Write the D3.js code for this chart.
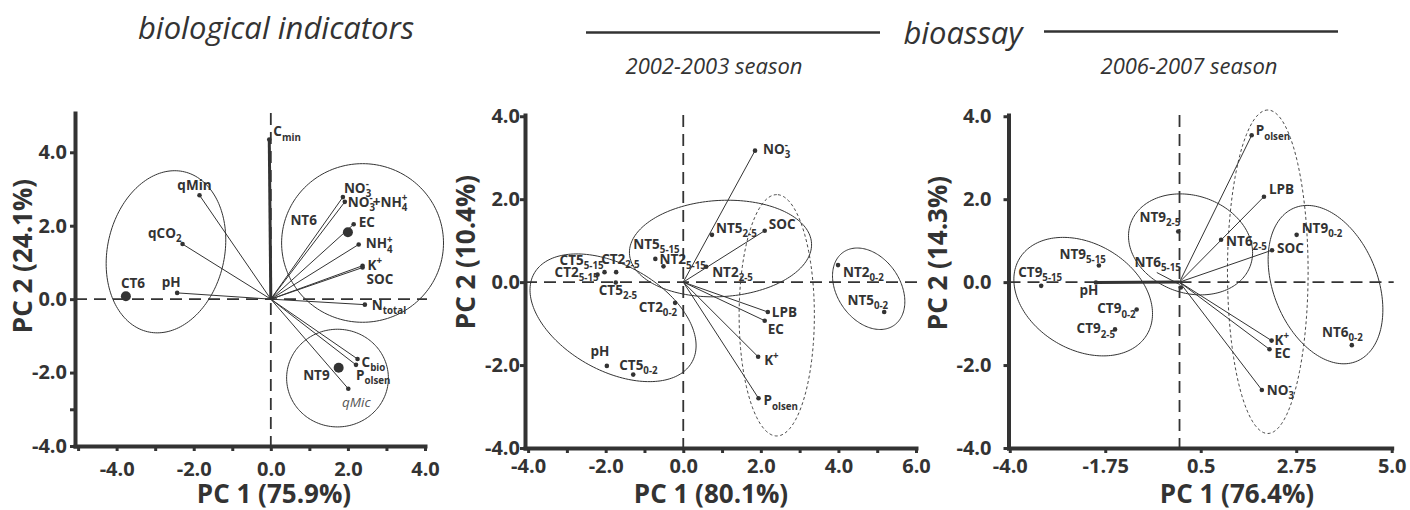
<!DOCTYPE html>
<html><head><meta charset="utf-8">
<script src="https://cdn.jsdelivr.net/npm/d3@7"></script>
<style>
body{margin:0;background:#fff}
svg{display:block}
text{font-family:'Open Sans','Noto Sans',sans-serif;fill:#333}
</style>
</head><body>
<svg id="chart" width="1410" height="510"></svg>
<script>
// ---------------- DATA ----------------
// Panel 1: biological indicators
const bioVarLabels = ["C_{min}","qMin","qCO_{2}","pH","NO_{3}^{-}","NO_{3}^{-}+NH_{4}^{+}","EC","NH_{4}^{+}","K^{+}","SOC","N_{total}","C_{bio}","P_{olsen}","qMic"];
const bioVarPC1 = [-0.04,-1.85,-2.29,-2.43,1.87,1.92,2.15,2.28,2.38,2.38,2.44,2.25,2.21,2.01];
const bioVarPC2 = [4.35,2.83,1.50,0.17,2.78,2.65,2.04,1.49,0.91,0.86,-0.15,-1.63,-1.79,-2.44];
const bioObsLabels = ["CT6","NT6","NT9"];
const bioObsPC1 = [-3.76,2.00,1.76];
const bioObsPC2 = [0.08,1.82,-1.87];
// group ellipses: [centre PC1, centre PC2, semi-axis a, semi-axis b, angle deg]
const bioEllipses = [[-2.72,1.29,2.23,1.52,79],[2.38,1.53,2.10,2.16,0],[1.73,-2.15,1.32,1.33,0]];
const bioXTicks = [-4,-2,0,2,4];
const bioXMinor = [-5,-3,-1,1,3];
const bioYTicks = [-4,-2,0,2,4];
const bioYMinor = [-3];

// Panel 2: bioassay 2002-2003
const s02VarLabels = ["NO_{3}^{-}","SOC","LPB","EC","K^{+}","P_{olsen}"];
const s02VarPC1 = [1.85,2.10,2.18,2.10,1.93,1.94];
const s02VarPC2 = [3.17,1.24,-0.72,-0.93,-1.80,-2.80];
const s02ObsLabels = ["NT5_{2-5}","NT5_{5-15}","NT2_{5-15}","NT2_{2-5}","CT5_{5-15}","CT2_{2-5}","CT2_{5-15}","CT5_{2-5}","CT2_{0-2}","pH","CT5_{0-2}","NT2_{0-2}","NT5_{0-2}"];
const s02ObsPC1 = [0.74,-0.72,-0.51,0.59,-2.03,-1.73,-2.21,-1.74,-0.21,-1.97,-1.29,3.99,5.18];
const s02ObsPC2 = [1.14,0.56,0.38,0.37,0.24,0.24,0.18,-0.01,-0.50,-2.02,-2.23,0.41,-0.72];
const s02Ellipses = [[-1.81,-0.86,2.30,1.29,-26.2],[0.96,0.81,2.35,1.16,3],[4.78,-0.16,1.10,0.79,-49.7],[2.41,-0.80,2.91,0.97,90]];
const s02XTicks = [-4,-2,0,2,4,6];
const s02XMinor = [-3,-1,1,3,5];
const s02YTicks = [-4,-2,0,2,4];
const s02YMinor = [];

// Panel 3: bioassay 2006-2007
const s06VarLabels = ["P_{olsen}","LPB","SOC","K^{+}","EC","NO_{3}^{-}","pH"];
const s06VarPC1 = [1.70,1.99,2.18,2.17,2.12,1.94,-1.97];
const s06VarPC2 = [3.54,2.06,0.77,-1.41,-1.62,-2.60,-0.01];
const s06ObsLabels = ["NT9_{2-5}","NT6_{2-5}","NT9_{0-2}","NT6_{0-2}","NT6_{5-15}","NT9_{5-15}","CT9_{5-15}","CT9_{0-2}","CT9_{2-5}"];
const s06ObsPC1 = [-0.03,0.98,2.76,4.06,0.03,-1.90,-3.26,-1.01,-1.52];
const s06ObsPC2 = [1.22,1.02,1.14,-1.52,-0.13,0.40,-0.09,-0.66,-1.14];
const s06Ellipses = [[-2.27,-0.35,1.76,1.27,-32.5],[0.26,0.91,1.50,1.17,-21],[3.44,-0.06,1.99,1.23,-69],[2.08,0.25,3.90,0.95,90]];
const s06XTicks = [-4,-1.75,0.5,2.75,5];
const s06XMinor = [];
const s06YTicks = [-4,-2,0,2,4];
const s06YMinor = [];

const axisTitlesX = ["PC 1 (75.9%)","PC 1 (80.1%)","PC 1 (76.4%)"];
const axisTitlesY = ["PC 2 (24.1%)","PC 2 (10.4%)","PC 2 (14.3%)"];
const mainTitles = ["biological indicators","bioassay"];
const seasonTitles = ["2002-2003 season","2006-2007 season"];

// ---------------- LAYOUT / STYLE ----------------
const INK = "#333";
const LABEL_FS = 13.5;
const layout = [
  { xDom:[-5.08,4.0], xRange:[75,425], yDom:[-4,5.07], yRange:[446,113],
    xPad:11, yPad:3, xTitleX:274, yTitleX:31.5, yTitleY:256,
    bigObs:true, thickVars:["C_{min}"], dashedEll:[false,false,false], vecObs:[],
    labels:{
      "C_{min}":[4,-3,"start"], "qMin":[-5,-5,"middle"], "qCO_{2}":[-1,-6,"end"], "pH":[-6,-6,"middle"],
      "CT6":[-5,-8,"start"], "NO_{3}^{-}":[1,-4,"start"], "NO_{3}^{-}+NH_{4}^{+}":[3,5,"start"],
      "EC":[5,3,"start"], "NT6":[-31,-7,"end"], "NH_{4}^{+}":[7,4,"start"], "K^{+}":[5,4,"start"],
      "SOC":[4,16,"start"], "N_{total}":[7,5,"start"], "C_{bio}":[4,8,"start"], "P_{olsen}":[0,15,"start"],
      "NT9":[-9,12,"end"], "qMic":[8,18,"middle"] },
    italic:["qMic"], leaders:{} },
  { xDom:[-4.08,6.0], xRange:[525,916], yDom:[-4,4.03], yRange:[448,115],
    xPad:6, yPad:0, xTitleX:711, yTitleX:475, yTitleY:252,
    bigObs:false, thickVars:[], dashedEll:[false,false,false,true],
    labels:{
      "NO_{3}^{-}":[8,3,"start"], "NT5_{2-5}":[4,-2,"start"], "SOC":[4,-2,"start"], "NT5_{5-15}":[-22,-10,"start"],
      "NT2_{5-15}":[-4,-2,"start"], "NT2_{2-5}":[6,10,"start"], "CT5_{5-15}":[-1,-7,"end"], "CT2_{2-5}":[-15,-8,"start"],
      "CT2_{5-15}":[1,2,"end"], "CT5_{2-5}":[-17,12,"start"], "CT2_{0-2}":[2,9,"end"], "pH":[-7,-10,"middle"],
      "CT5_{0-2}":[-14,-5,"start"], "LPB":[4,5,"start"], "EC":[3,13,"start"], "K^{+}":[6,8,"start"],
      "P_{olsen}":[5,7,"start"], "NT2_{0-2}":[5,12,"start"], "NT5_{0-2}":[4,-7,"end"] },
    italic:[], leaders:{} },
  { xDom:[-4.03,5.0], xRange:[1008.5,1391.7], yDom:[-4,4.03], yRange:[448,115],
    xPad:6, yPad:12, xTitleX:1237, yTitleX:947, yTitleY:253,
    bigObs:false, thickVars:["pH"], dashedEll:[false,false,false,true],
    labels:{
      "P_{olsen}":[4,0,"start"], "LPB":[5,-3,"start"], "NT9_{2-5}":[2,-10,"end"], "NT6_{2-5}":[5,6,"start"],
      "SOC":[5,3,"start"], "NT9_{0-2}":[5,-2,"start"], "NT6_{0-2}":[11,-8,"end"], "K^{+}":[3,4,"start"],
      "EC":[5,9,"start"], "NO_{3}^{-}":[5,5,"start"], "NT6_{5-15}":[0,-21,"end"], "NT9_{5-15}":[7,-7,"end"],
      "CT9_{5-15}":[21,-9,"end"], "pH":[-7,12,"middle"], "CT9_{0-2}":[-1,4,"end"], "CT9_{2-5}":[0,4,"end"] },
    italic:[], leaders:{"NT6_{5-15}":[-24,-15,-1,-3]} }
];

const panelData = [
  {vl:bioVarLabels,v1:bioVarPC1,v2:bioVarPC2,ol:bioObsLabels,o1:bioObsPC1,o2:bioObsPC2,ell:bioEllipses,xt:bioXTicks,xm:bioXMinor,yt:bioYTicks,ym:bioYMinor},
  {vl:s02VarLabels,v1:s02VarPC1,v2:s02VarPC2,ol:s02ObsLabels,o1:s02ObsPC1,o2:s02ObsPC2,ell:s02Ellipses,xt:s02XTicks,xm:s02XMinor,yt:s02YTicks,ym:s02YMinor},
  {vl:s06VarLabels,v1:s06VarPC1,v2:s06VarPC2,ol:s06ObsLabels,o1:s06ObsPC1,o2:s06ObsPC2,ell:s06Ellipses,xt:s06XTicks,xm:s06XMinor,yt:s06YTicks,ym:s06YMinor}
];

const svg = d3.select("#chart");

function fmtTick(v){ return Math.abs(v*10 - Math.round(v*10)) < 1e-9 ? v.toFixed(1) : v.toFixed(2); }

function richText(sel, markup, fs){
  const toks = markup.match(/_\{[^}]*\}|\^\{[^}]*\}|[^_^]+/g);
  let cur = 0, lastSubW = 0, prevSub = false;
  toks.forEach(tk => {
    let kind = "n", txt = tk;
    if (tk.startsWith("_{")) { kind = "sub"; txt = tk.slice(2,-1); }
    else if (tk.startsWith("^{")) { kind = "sup"; txt = tk.slice(2,-1); }
    const shift = kind === "sub" ? fs*0.32 : kind === "sup" ? -fs*0.42 : 0;
    const ts = sel.append("tspan").text(txt)
      .attr("dy", (shift - cur).toFixed(2))
      .style("font-size", (kind === "n" ? fs : fs*0.72) + "px");
    if (kind === "sup" && prevSub) ts.attr("dx", (-lastSubW).toFixed(2));
    cur = shift;
    if (kind === "sub") { lastSubW = ts.node().getComputedTextLength(); prevSub = true; } else prevSub = false;
  });
}

function drawPanel(i){
  const L = layout[i], D = panelData[i];
  const x = d3.scaleLinear().domain(L.xDom).range(L.xRange);
  const y = d3.scaleLinear().domain(L.yDom).range(L.yRange);
  const g = svg.append("g");

  // reference dashed lines
  g.append("line").attr("x1", x(L.xDom[0])).attr("x2", x(L.xDom[1]) + 2)
    .attr("y1", y(0)).attr("y2", y(0))
    .attr("stroke", INK).attr("stroke-width", 1.8).attr("stroke-dasharray", "12,7");
  g.append("line").attr("x1", x(0)).attr("x2", x(0))
    .attr("y1", y(L.yDom[1])).attr("y2", y(L.yDom[0]))
    .attr("stroke", INK).attr("stroke-width", 1.8).attr("stroke-dasharray", "12,7");

  // ellipses
  const ts = d3.range(0, 2*Math.PI, Math.PI/90);
  const line = d3.line().x(p => x(p[0])).y(p => y(p[1])).curve(d3.curveLinearClosed);
  D.ell.forEach((e, k) => {
    const [cx, cy, a, b, ang] = e;
    const th = ang * Math.PI/180;
    const pts = ts.map(t => [cx + a*Math.cos(t)*Math.cos(th) - b*Math.sin(t)*Math.sin(th),
                             cy + a*Math.cos(t)*Math.sin(th) + b*Math.sin(t)*Math.cos(th)]);
    g.append("path").attr("d", line(pts)).attr("fill", "none")
      .attr("stroke", INK).attr("stroke-width", L.dashedEll[k] ? 0.9 : 1)
      .attr("stroke-dasharray", L.dashedEll[k] ? "3,2.5" : null);
  });

  // vectors
  D.vl.forEach((lab, k) => {
    g.append("line").attr("x1", x(0)).attr("y1", y(0))
      .attr("x2", x(D.v1[k])).attr("y2", y(D.v2[k]))
      .attr("stroke", INK).attr("stroke-width", L.thickVars.includes(lab) ? 3 : 1);
  });

  // leaders
  D.ol.forEach((lab, k) => {
    const ld = L.leaders[lab];
    if (!ld) return;
    const px = x(D.o1[k]), py = y(D.o2[k]);
    g.append("line").attr("x1", px + ld[0]).attr("y1", py + ld[1]).attr("x2", px + ld[2]).attr("y2", py + ld[3])
      .attr("stroke", INK).attr("stroke-width", 1);
  });

  // dots
  D.vl.forEach((lab, k) => {
    g.append("circle").attr("cx", x(D.v1[k])).attr("cy", y(D.v2[k])).attr("r", 2.3).attr("fill", INK);
  });
  D.ol.forEach((lab, k) => {
    g.append("circle").attr("cx", x(D.o1[k])).attr("cy", y(D.o2[k])).attr("r", L.bigObs ? 5 : 2.3).attr("fill", INK);
  });

  // labels
  const addLabel = (lab, vx, vy) => {
    const o = L.labels[lab] || [4, 4, "start"];
    const it = L.italic.includes(lab);
    const t = g.append("text").attr("x", x(vx) + o[0]).attr("y", y(vy) + o[1])
      .attr("text-anchor", o[2])
      .style("font-weight", it ? "400" : "700")
      .style("font-style", it ? "italic" : "normal")
      .style("fill", it ? "#555" : INK);
    richText(t, lab, LABEL_FS);
  };
  D.vl.forEach((lab, k) => addLabel(lab, D.v1[k], D.v2[k]));
  D.ol.forEach((lab, k) => addLabel(lab, D.o1[k], D.o2[k]));

  // axes
  const y0 = L.yRange[0];
  const xAxis = d3.axisBottom(x).tickValues(D.xt).tickFormat(fmtTick).tickSize(5).tickSizeOuter(0).tickPadding(L.xPad);
  const gx = g.append("g").attr("transform", `translate(0,${y0})`).call(xAxis);
  if (D.xm.length) g.append("g").attr("transform", `translate(0,${y0})`)
      .call(d3.axisBottom(x).tickValues(D.xm).tickFormat("").tickSize(5).tickSizeOuter(0))
      .call(s => s.select(".domain").remove());
  const yAxis = d3.axisLeft(y).tickValues(D.yt).tickFormat(fmtTick).tickSize(5).tickSizeOuter(0).tickPadding(L.yPad);
  const gy = g.append("g").attr("transform", `translate(${L.xRange[0]},0)`).call(yAxis);
  if (D.ym.length) g.append("g").attr("transform", `translate(${L.xRange[0]},0)`)
      .call(d3.axisLeft(y).tickValues(D.ym).tickFormat("").tickSize(5).tickSizeOuter(0))
      .call(s => s.select(".domain").remove());
  g.selectAll(".domain").attr("stroke", INK).attr("stroke-width", 4).attr("stroke-linecap", "square");
  g.selectAll(".tick line").attr("stroke", INK).attr("stroke-width", 3);
  g.selectAll(".tick text").style("font-family", "'Open Sans',sans-serif").style("font-size", "20px")
    .style("font-weight", "700").attr("fill", INK);

  // axis titles
  g.append("text").attr("x", L.xTitleX).attr("y", 503).attr("text-anchor", "middle")
    .style("font-size", "26px").style("font-weight", "700").text(axisTitlesX[i]);
  g.append("text").attr("transform", `translate(${L.yTitleX},${L.yTitleY}) rotate(-90)`)
    .attr("text-anchor", "middle").style("font-size", "26px").style("font-weight", "700").text(axisTitlesY[i]);
}

[0,1,2].forEach(drawPanel);

// titles
svg.append("text").attr("x", 276).attr("y", 39).attr("text-anchor", "middle")
  .style("font-size", "31px").style("font-style", "italic").text(mainTitles[0]);
svg.append("text").attr("x", 963).attr("y", 44).attr("text-anchor", "middle")
  .style("font-size", "31px").style("font-style", "italic").text(mainTitles[1]);
svg.append("line").attr("x1", 586).attr("x2", 880).attr("y1", 32.5).attr("y2", 32.5).attr("stroke", INK).attr("stroke-width", 2.5);
svg.append("line").attr("x1", 1044).attr("x2", 1338).attr("y1", 31.5).attr("y2", 31.5).attr("stroke", INK).attr("stroke-width", 2.5);
svg.append("text").attr("x", 714).attr("y", 74).attr("text-anchor", "middle")
  .style("font-size", "22px").style("font-style", "italic").text(seasonTitles[0]);
svg.append("text").attr("x", 1189).attr("y", 74).attr("text-anchor", "middle")
  .style("font-size", "22px").style("font-style", "italic").text(seasonTitles[1]);
</script>
</body></html>
